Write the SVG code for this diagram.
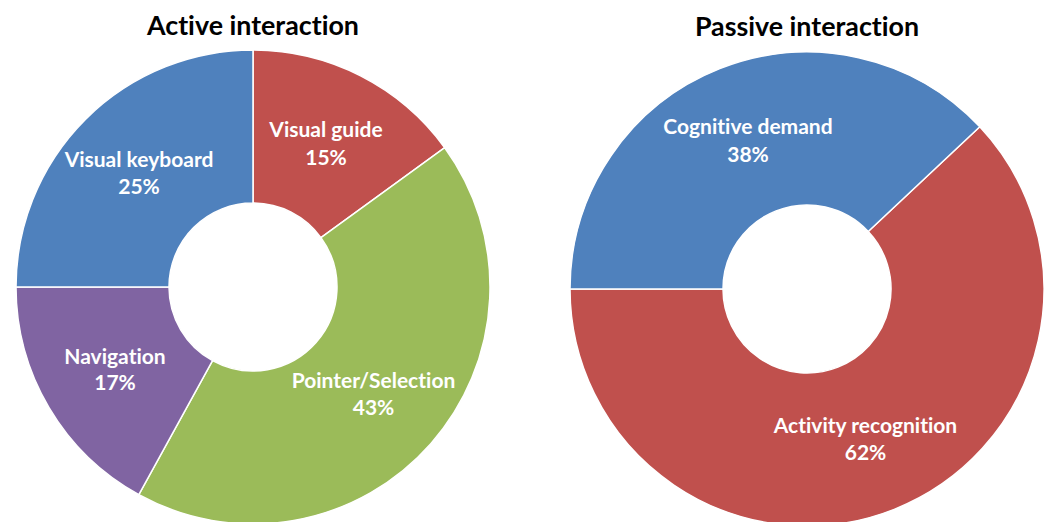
<svg xmlns="http://www.w3.org/2000/svg" width="1049" height="522" viewBox="0 0 1049 522">
<style>
.seg{stroke:#fff;stroke-width:1.5;stroke-linejoin:round}
.blue{fill:#4F81BD}.red{fill:#C0504D}.green{fill:#9BBB59}.purple{fill:#8064A2}
.title{font-family:Lato,"Liberation Sans",sans-serif;font-weight:bold;font-size:26.8px;fill:#000;text-anchor:middle;font-variant-ligatures:none}
.lbl{font-family:Lato,"Liberation Sans",sans-serif;font-weight:bold;font-size:21px;fill:#fff;text-anchor:middle;font-variant-ligatures:none}
</style>
<rect width="1049" height="522" fill="#fff"/>
<g id="active-chart">
<text class="title" x="253" y="35">Active interaction</text>
<g id="visual-guide"><path class="seg red" d="M253,50 A237,237 0 0 1 444.74,147.69 L320.96,237.63 A84,84 0 0 0 253,203 Z"/>
<text class="lbl" x="326" y="137">Visual guide</text><text class="lbl" x="326" y="165">15%</text></g>
<g id="pointer-selection"><path class="seg green" d="M444.74,147.69 A237,237 0 0 1 138.83,494.69 L212.53,360.61 A84,84 0 0 0 320.96,237.63 Z"/>
<text class="lbl" x="373.5" y="388">Pointer/Selection</text><text class="lbl" x="373.5" y="415">43%</text></g>
<g id="navigation"><path class="seg purple" d="M138.83,494.69 A237,237 0 0 1 16,287 L169,287 A84,84 0 0 0 212.53,360.61 Z"/>
<text class="lbl" x="115" y="364">Navigation</text><text class="lbl" x="115" y="390">17%</text></g>
<g id="visual-keyboard"><path class="seg blue" d="M16,287 A237,237 0 0 1 253,50 L253,203 A84,84 0 0 0 169,287 Z"/>
<text class="lbl" x="139" y="167">Visual keyboard</text><text class="lbl" x="139" y="194">25%</text></g>
</g>
<g id="passive-chart">
<text class="title" x="807" y="36">Passive interaction</text>
<g id="activity-recognition"><path class="seg red" d="M979.77,126.76 A237,237 0 1 1 570,289 L723,289 A84,84 0 1 0 868.23,231.5 Z"/>
<text class="lbl" x="865.5" y="433">Activity recognition</text><text class="lbl" x="865.5" y="460">62%</text></g>
<g id="cognitive-demand"><path class="seg blue" d="M570,289 A237,237 0 0 1 979.77,126.76 L868.23,231.5 A84,84 0 0 0 723,289 Z"/>
<text class="lbl" x="748" y="134">Cognitive demand</text><text class="lbl" x="748" y="162">38%</text></g>
</g>
<g id="connectors"/>
</svg>
